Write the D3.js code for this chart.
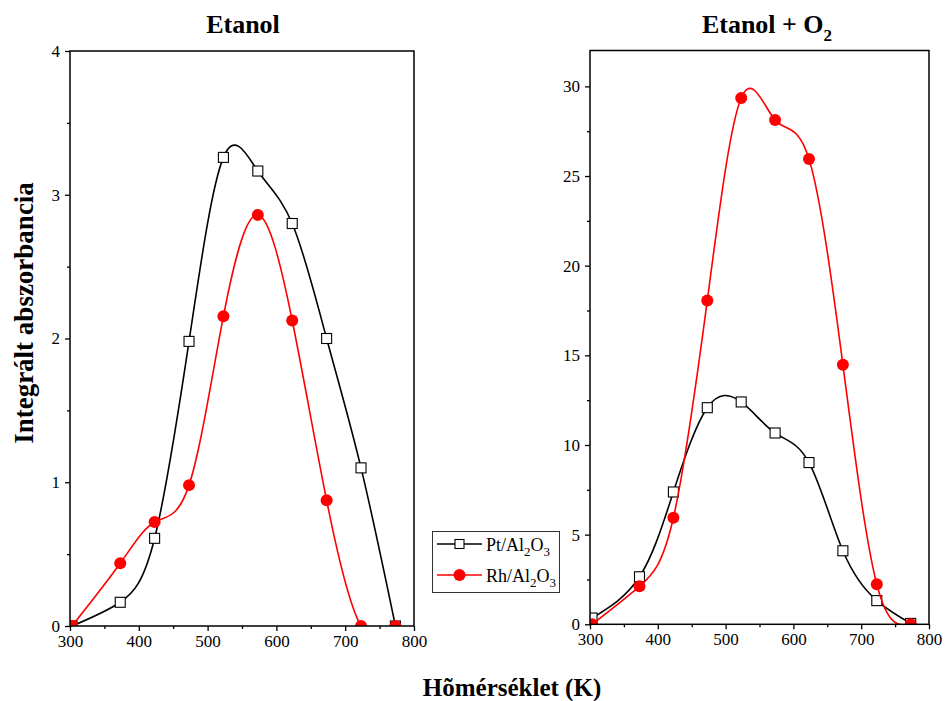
<!DOCTYPE html>
<html><head><meta charset="utf-8">
<script src="https://cdn.jsdelivr.net/npm/d3@7"></script>
<style>
body{margin:0;background:#fff;}
text{font-family:"Liberation Serif","Times New Roman",serif;}
</style></head>
<body><svg id="c" width="948" height="701"></svg>
<script>
const temps = [303, 373, 423, 473, 523, 573, 623, 673, 723, 773];
const ptEtanol = [0, 0.165, 0.61, 1.98, 3.26, 3.165, 2.80, 2.00, 1.10, 0];
const rhEtanol = [0, 0.436, 0.724, 0.98, 2.155, 2.86, 2.125, 0.875, 0, 0];
const ptEtanolO2 = [0.35, 2.65, 7.38, 12.08, 12.40, 10.67, 9.02, 4.10, 1.32, 0.05];
const rhEtanolO2 = [0, 2.12, 5.94, 18.06, 29.35, 28.13, 25.95, 14.48, 2.23, 0];
const xTicks = [300, 400, 500, 600, 700, 800];
const yTicksLeft = [0, 1, 2, 3, 4];
const yTicksRight = [0, 5, 10, 15, 20, 25, 30];
const seriesNames = ["Pt/Al", "Rh/Al"];
const seriesColors = ["#000000", "#ff0000"];

const svg = d3.select("#c");
const defs = svg.append("defs");

function panel(opt){
  const g = svg.append("g");
  const x = d3.scaleLinear().domain([300, 800]).range([opt.left, opt.right]);
  const y = d3.scaleLinear().domain(opt.ydom).range([opt.bottom, opt.top]);
  const xa = d3.axisBottom(x).tickValues(xTicks).tickSize(5).tickSizeOuter(0).tickPadding(4).tickFormat(d3.format("d"));
  const xm = d3.axisBottom(x).tickValues(d3.range(350, 800, 100)).tickSize(3).tickSizeOuter(0).tickFormat("");
  const ya = d3.axisLeft(y).tickValues(opt.yticks).tickSize(5).tickSizeOuter(0).tickPadding(5).tickFormat(d3.format("d"));
  const ym = d3.axisLeft(y).tickValues(opt.yminor).tickSize(3).tickSizeOuter(0).tickFormat("");
  [xa, xm].forEach(a => {
    const ag = g.append("g").attr("transform", `translate(0,${opt.bottom})`).call(a);
    ag.select(".domain").remove();
    ag.selectAll("line").attr("stroke", "#000").attr("stroke-width", 1.3);
    ag.selectAll("text").attr("font-size", 17).attr("fill", "#000")
      .style("font-family", "'Liberation Serif','Times New Roman',serif");
  });
  [ya, ym].forEach(a => {
    const ag = g.append("g").attr("transform", `translate(${opt.left},0)`).call(a);
    ag.select(".domain").remove();
    ag.selectAll("line").attr("stroke", "#000").attr("stroke-width", 1.3);
    ag.selectAll("text").attr("font-size", 17).attr("fill", "#000")
      .style("font-family", "'Liberation Serif','Times New Roman',serif");
  });

  defs.append("clipPath").attr("id", opt.id).append("rect")
    .attr("x", opt.left).attr("y", opt.top)
    .attr("width", opt.right - opt.left).attr("height", opt.bottom - opt.top);
  const pg = g.append("g").attr("clip-path", `url(#${opt.id})`);

  const line = d3.line().x((d, i) => x(temps[i])).y(d => y(d)).curve(d3.curveNatural);
  // Pt
  pg.append("path").attr("d", line(opt.pt)).attr("fill", "none").attr("stroke", seriesColors[0]).attr("stroke-width", 1.6);
  pg.selectAll(".sq").data(opt.pt).enter().append("rect")
    .attr("x", (d, i) => x(temps[i]) - 5).attr("y", d => y(d) - 5)
    .attr("width", 10).attr("height", 10)
    .attr("fill", "#fff").attr("stroke", "#000").attr("stroke-width", 1.1);
  // Rh
  pg.append("path").attr("d", line(opt.rh)).attr("fill", "none").attr("stroke", seriesColors[1]).attr("stroke-width", 1.6);
  pg.selectAll(".ci").data(opt.rh).enter().append("circle")
    .attr("cx", (d, i) => x(temps[i])).attr("cy", d => y(d)).attr("r", 6)
    .attr("fill", seriesColors[1]);

  g.append("rect").attr("x", opt.left).attr("y", opt.top)
    .attr("width", opt.right - opt.left).attr("height", opt.bottom - opt.top)
    .attr("fill", "none").attr("stroke", "#000").attr("stroke-width", 1.5);
  return {x, y};
}

panel({id: "clipL", left: 70, right: 414, top: 51, bottom: 626, ydom: [0, 4],
  yticks: yTicksLeft, yminor: d3.range(0.5, 4, 1), pt: ptEtanol, rh: rhEtanol});
panel({id: "clipR", left: 590, right: 929, top: 50.5, bottom: 624.3, ydom: [0, 32],
  yticks: yTicksRight, yminor: d3.range(2.5, 32, 5), pt: ptEtanolO2, rh: rhEtanolO2});

// Titles
svg.append("text").attr("x", 243).attr("y", 33).attr("text-anchor", "middle")
  .attr("font-size", 26).attr("font-weight", "bold").text("Etanol");
const t2 = svg.append("text").attr("x", 767).attr("y", 33).attr("text-anchor", "middle")
  .attr("font-size", 26).attr("font-weight", "bold");
t2.append("tspan").text("Etanol + O");
t2.append("tspan").attr("font-size", 17).attr("dy", 8).text("2");

// Axis labels
svg.append("text").attr("transform", "translate(33,313) rotate(-90)").attr("text-anchor", "middle")
  .attr("font-size", 27).attr("font-weight", "bold").text("Integrált abszorbancia");
svg.append("text").attr("x", 512).attr("y", 696).attr("text-anchor", "middle")
  .attr("font-size", 25).attr("font-weight", "bold").text("Hõmérséklet (K)");

// Legend
const lg = svg.append("g");
lg.append("rect").attr("x", 432.5).attr("y", 531.5).attr("width", 127).attr("height", 61)
  .attr("fill", "#fff").attr("stroke", "#333").attr("stroke-width", 1);
const rows = [544, 575];
seriesNames.forEach((name, i) => {
  const yy = rows[i];
  lg.append("line").attr("x1", 437).attr("x2", 482).attr("y1", yy).attr("y2", yy)
    .attr("stroke", seriesColors[i]).attr("stroke-width", 1.6);
  if (i === 0) {
    lg.append("rect").attr("x", 459.5 - 4.5).attr("y", yy - 4.5).attr("width", 9).attr("height", 9)
      .attr("fill", "#fff").attr("stroke", "#000").attr("stroke-width", 1.1);
  } else {
    lg.append("circle").attr("cx", 459.5).attr("cy", yy).attr("r", 6).attr("fill", seriesColors[i]);
  }
  const t = lg.append("text").attr("x", 486).attr("y", yy + 7).attr("font-size", 18);
  t.append("tspan").text(name);
  t.append("tspan").attr("font-size", 13).attr("dy", 5).text("2");
  t.append("tspan").attr("font-size", 18).attr("dy", -5).text("O");
  t.append("tspan").attr("font-size", 13).attr("dy", 5).text("3");
});
</script></body></html>
